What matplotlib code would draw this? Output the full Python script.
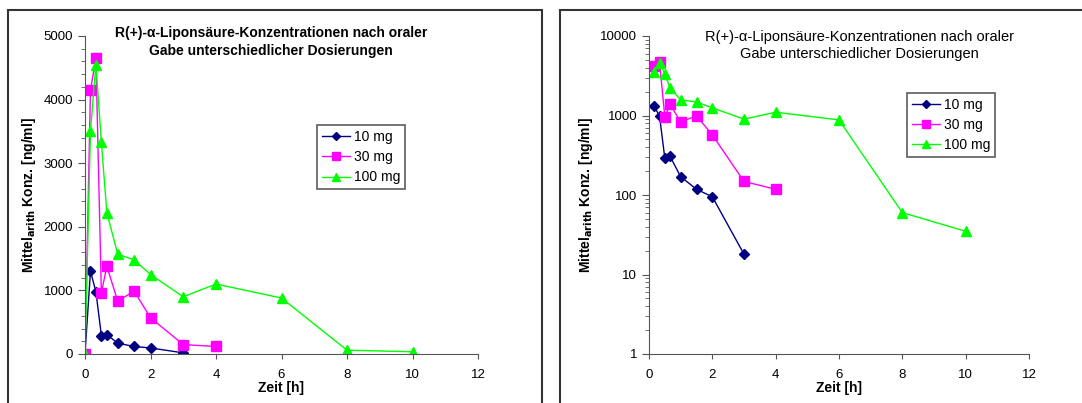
import matplotlib.pyplot as plt
from matplotlib.patches import Rectangle
from matplotlib.ticker import MultipleLocator, LogLocator, NullFormatter

plt.rcParams['font.family'] = ['Liberation Sans', 'DejaVu Sans']

# time points [h]
t_10 = [0, 0.167, 0.333, 0.5, 0.667, 1, 1.5, 2, 3]
c_10 = [0, 1300, 980, 290, 305, 170, 118, 95, 18]

t_30 = [0, 0.167, 0.333, 0.5, 0.667, 1, 1.5, 2, 3, 4]
c_30 = [0, 4150, 4650, 960, 1380, 830, 990, 570, 148, 118]

t_100 = [0, 0.167, 0.333, 0.5, 0.667, 1, 1.5, 2, 3, 4, 6, 8, 10]
c_100 = [0, 3500, 4550, 3330, 2220, 1570, 1480, 1250, 900, 1100, 880, 60, 35]

labels = ['10 mg', '30 mg', '100 mg']
title = 'R(+)-α-Liponsäure-Konzentrationen nach oraler\nGabe unterschiedlicher Dosierungen'

W, H = 1082, 403
fig = plt.figure(figsize=(W / 100, H / 100), dpi=100)

# outer frames around each chart
fig.patches.append(Rectangle((8 / W, -0.05), (542 - 8) / W, 1.05 - 10 / H,
                             transform=fig.transFigure, fill=False,
                             edgecolor='#333333', linewidth=1.5))
fig.patches.append(Rectangle((560 / W, -0.05), 0.6, 1.05 - 10 / H,
                             transform=fig.transFigure, fill=False,
                             edgecolor='#333333', linewidth=1.5))

ax1 = fig.add_axes([85 / W, (H - 354) / H, (478 - 85) / W, (354 - 36) / H])
ax2 = fig.add_axes([649 / W, (H - 354) / H, (1029 - 649) / W, (354 - 36) / H])


def draw(ax, log):
    if log:
        s10 = (t_10[1:], c_10[1:])
        s30 = (t_30[1:], c_30[1:])
        s100 = (t_100[1:], c_100[1:])
    else:
        s10 = (t_10, c_10)
        s30 = (t_30, c_30)
        s100 = (t_100, c_100)
    ax.plot(*s10, color='#000080', marker='D', markersize=5, linewidth=1,
            label=labels[0])
    ax.plot(*s30, color='#ff00ff', marker='s', markersize=7, linewidth=1,
            label=labels[1])
    ax.plot(*s100, color='#00ff00', marker='^', markersize=7, linewidth=1,
            label=labels[2])

    ax.set_xlim(0, 12)
    ax.xaxis.set_major_locator(MultipleLocator(2))
    for side in ['top', 'right']:
        ax.spines[side].set_visible(False)
    for side in ['left', 'bottom']:
        ax.spines[side].set_color('#555555')
    ax.tick_params(axis='both', which='both', direction='out', color='#555555',
                   labelsize=9.5)
    ax.tick_params(axis='x', pad=7)
    ax.tick_params(axis='y', which='major', length=5)
    ax.tick_params(axis='y', which='minor', length=3)
    ax.set_xlabel('Zeit [h]', fontsize=10, fontweight='bold', labelpad=0)
    ax.set_ylabel(r'Mittel$_{\mathbf{arith}}$ Konz. [ng/ml]', fontsize=10,
                  fontweight='bold')


def add_legend(ax, x, y):
    leg = ax.legend(loc='upper left', bbox_to_anchor=(x, y), fontsize=10,
                    frameon=True, fancybox=False, edgecolor='#333333',
                    handlelength=2.0, borderaxespad=0, borderpad=0.35,
                    handletextpad=0.3, labelspacing=0.45, markerscale=0.75)
    leg.get_frame().set_linewidth(1.2)


draw(ax1, False)
ax1.set_ylim(0, 5000)
ax1.yaxis.set_major_locator(MultipleLocator(1000))
ax1.yaxis.set_minor_locator(MultipleLocator(200))
ax1.text(0.473, 1.03, title, transform=ax1.transAxes, ha='center', va='top',
         fontsize=10, fontweight='bold', linespacing=1.35)
add_legend(ax1, 0.59, 0.72)

draw(ax2, True)
ax2.set_yscale('log')
ax2.set_ylim(1, 10000)
ax2.yaxis.set_major_locator(LogLocator(base=10, numticks=10))
ax2.yaxis.set_minor_locator(LogLocator(base=10, subs=range(2, 10), numticks=10))
ax2.yaxis.set_minor_formatter(NullFormatter())
ax2.set_yticks([1, 10, 100, 1000, 10000])
ax2.set_yticklabels(['1', '10', '100', '1000', '10000'])
ax2.text(0.553, 1.02, title, transform=ax2.transAxes, ha='center', va='top',
         fontsize=10.5, linespacing=1.35)
add_legend(ax2, 0.679, 0.821)

fig.savefig('out.png', dpi=100)
